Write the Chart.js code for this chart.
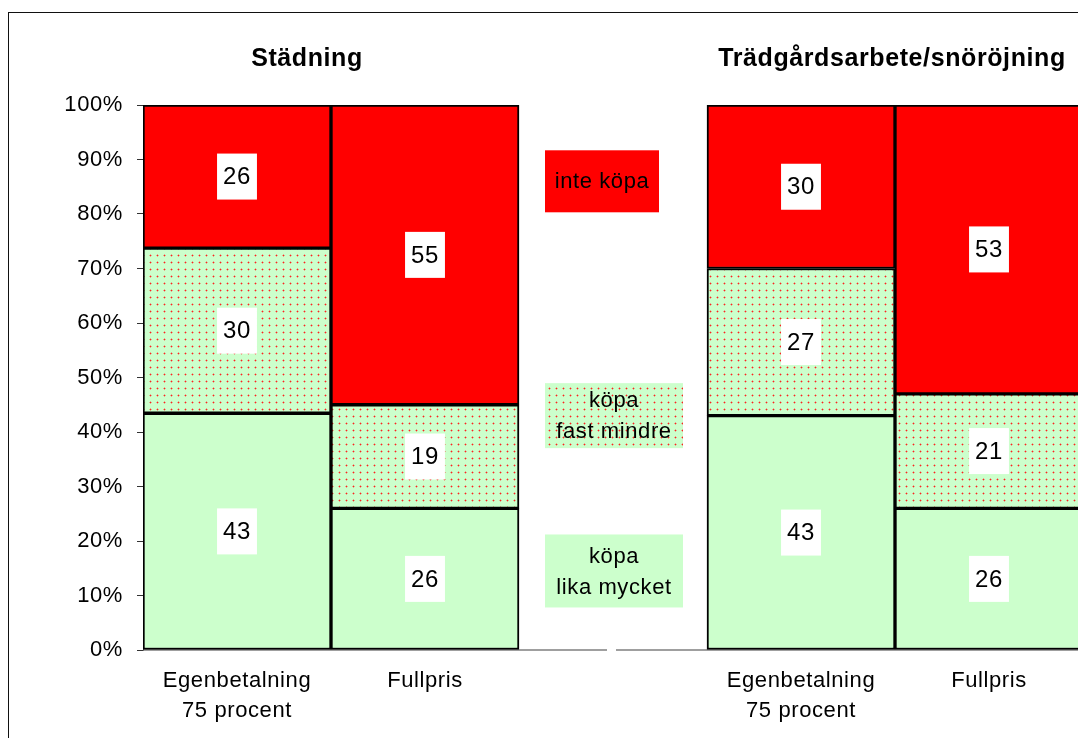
<!DOCTYPE html>
<html>
<head>
<meta charset="utf-8">
<script src="https://cdn.jsdelivr.net/npm/chart.js@4"></script>
<style>
    html, body { margin: 0; padding: 0; background: #fff; overflow: hidden; width: 1078px; height: 738px; }
    #frame { position: absolute; left: 8px; top: 12px; width: 2000px; height: 2000px; border: 1px solid #111; }
    #chart { position: absolute; left: 0; top: 0; }
</style>
</head>
<body>
<div id="frame"></div>
<canvas id="chart" width="1100" height="738"></canvas>
<script>
// Data
const categories = [['Egenbetalning', '75 procent'], 'Fullpris', '', ['Egenbetalning', '75 procent'], 'Fullpris'];
const likaMycket = [43, 26, null, 43, 26];
const fastMindre = [30, 19, null, 27, 21];
const inteKopa = [26, 55, null, 30, 53];
const groupTitles = ['Städning', 'Trädgårdsarbete/snöröjning'];
const legendLabels = [['inte köpa'], ['köpa', 'fast mindre'], ['köpa', 'lika mycket']];
const legendLevels = [86, 43, 14.5]; // where each legend box sits on the % axis

const FONT = '"Liberation Sans", Arial, sans-serif';
const SPACING = '0.6px';

// totals per category, so each bar fills 100%
const totals = categories.map((c, i) => (likaMycket[i] || 0) + (fastMindre[i] || 0) + (inteKopa[i] || 0));
function toPct(arr) {
    return arr.map((v, i) => v == null ? null : v / totals[i] * 100);
}

// dotted fill for "köpa fast mindre"
function makeDots() {
    const c = document.createElement('canvas');
    c.width = 7; c.height = 7;
    const x = c.getContext('2d');
    x.fillStyle = '#CCFFCC';
    x.fillRect(0, 0, 7, 7);
    x.fillStyle = 'rgba(255,0,0,0.3)';
    x.fillRect(2, 3, 3, 1);
    x.fillRect(3, 2, 1, 3);
    x.fillStyle = '#FF2020';
    x.fillRect(3, 3, 1, 1);
    return x.createPattern(c, 'repeat');
}
const ctx = document.getElementById('chart').getContext('2d');
const dots = makeDots();

// slightly wider text, like the original
const spacingPlugin = {
    id: 'spacing',
    beforeUpdate(chart) { chart.ctx.letterSpacing = SPACING; },
    beforeLayout(chart) { chart.ctx.letterSpacing = SPACING; },
    beforeDraw(chart) { chart.ctx.letterSpacing = SPACING; }
};

// baseline with a small break in the middle
const baselinePlugin = {
    id: 'baseline',
    beforeDatasetsDraw(chart) {
        const c = chart.ctx, xs = chart.scales.x, ys = chart.scales.y;
        const y = ys.getPixelForValue(0);
        const mid = xs.getPixelForValue(2);
        c.save();
        c.strokeStyle = '#808080';
        c.lineWidth = 1.5;
        c.beginPath();
        c.moveTo(chart.chartArea.left, y); c.lineTo(mid - 6, y);
        c.moveTo(mid + 3, y); c.lineTo(chart.chartArea.right, y);
        c.stroke();
        c.restore();
    }
};

// white boxes with the raw numbers
const valueLabelPlugin = {
    id: 'valueLabels',
    afterDatasetsDraw(chart) {
        const c = chart.ctx;
        c.save();
        c.font = '24px ' + FONT;
        c.textAlign = 'center';
        c.textBaseline = 'middle';
        chart.data.datasets.forEach((ds, di) => {
            chart.getDatasetMeta(di).data.forEach((bar, i) => {
                const v = ds.raw[i];
                if (v == null) return;
                const cy = (bar.y + bar.base) / 2;
                const w = c.measureText(String(v)).width + 12;
                c.fillStyle = '#fff';
                c.fillRect(bar.x - w / 2, cy - 23, w, 46);
                c.fillStyle = '#000';
                c.fillText(String(v), bar.x, cy + 1);
            });
        });
        c.restore();
    }
};

// legend boxes in the empty middle column + group titles
const annotationPlugin = {
    id: 'annotations',
    afterDraw(chart) {
        const c = chart.ctx, xs = chart.scales.x, ys = chart.scales.y;
        c.save();
        c.textAlign = 'center';
        c.textBaseline = 'middle';

        // titles
        c.font = 'bold 25px ' + FONT;
        c.fillStyle = '#000';
        const titleX = [
            (xs.getPixelForValue(0) + xs.getPixelForValue(1)) / 2 - 24,
            (xs.getPixelForValue(3) + xs.getPixelForValue(4)) / 2 - 3
        ];
        groupTitles.forEach((t, i) => c.fillText(t, titleX[i], 59));

        // legend
        const left = xs.getPixelForValue(2) - 68;
        const boxW = [114, 138, 138];
        const boxH = [62, 65, 73];
        const fills = ['#FF0000', dots, '#CCFFCC'];
        c.font = '22px ' + FONT;
        legendLabels.forEach((lines, i) => {
            const cy = ys.getPixelForValue(legendLevels[i]);
            c.fillStyle = fills[i];
            c.fillRect(left, cy - boxH[i] / 2, boxW[i], boxH[i]);
            c.fillStyle = '#000';
            const cx = left + boxW[i] / 2;
            lines.forEach((ln, k) => {
                c.fillText(ln, cx, cy + (k - (lines.length - 1) / 2) * 31 + 1);
            });
        });
        c.restore();
    }
};

new Chart(ctx, {
    type: 'bar',
    data: {
        labels: categories,
        datasets: [
            { label: 'köpa lika mycket', data: toPct(likaMycket), raw: likaMycket, backgroundColor: '#CCFFCC' },
            { label: 'köpa fast mindre', data: toPct(fastMindre), raw: fastMindre, backgroundColor: dots },
            { label: 'inte köpa', data: toPct(inteKopa), raw: inteKopa, backgroundColor: '#FF0000' }
        ].map(d => Object.assign(d, {
            borderColor: '#000',
            borderWidth: 2,
            borderSkipped: false,
            categoryPercentage: 1,
            barPercentage: 1
        }))
    },
    options: {
        responsive: false,
        animation: false,
        layout: { padding: { top: 105, right: 17, left: 0, bottom: 0 } },
        plugins: {
            legend: { display: false },
            tooltip: { enabled: false }
        },
        scales: {
            x: {
                stacked: true,
                grid: { display: false },
                border: { display: false },
                ticks: {
                    color: '#000',
                    font: { family: FONT, size: 22, lineHeight: 1.364 },
                    padding: 8,
                    maxRotation: 0,
                    autoSkip: false
                },
                afterFit(scale) { scale.height = 88; }
            },
            y: {
                stacked: true,
                min: 0,
                max: 100,
                grid: { drawOnChartArea: false, color: '#333', tickLength: 6 },
                border: { color: '#333' },
                ticks: {
                    stepSize: 10,
                    color: '#000',
                    padding: 14,
                    font: { family: FONT, size: 22 },
                    callback: v => v + '%'
                },
                afterFit(scale) { scale.width = 143; }
            }
        }
    },
    plugins: [spacingPlugin, baselinePlugin, valueLabelPlugin, annotationPlugin]
});
</script>
</body>
</html>
